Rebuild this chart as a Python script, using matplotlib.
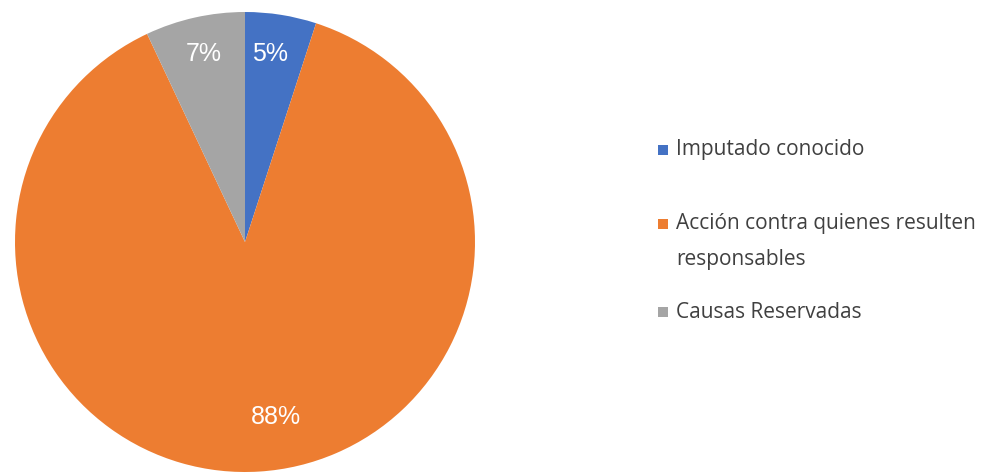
import matplotlib
matplotlib.use("Agg")
import matplotlib.pyplot as plt
from matplotlib.patches import Rectangle

categories = ["Imputado conocido", "Acción contra quienes resulten\nresponsables", "Causas Reservadas"]
values = [5, 88, 7]
colors = ["#4472C4", "#ED7D31", "#A5A5A5"]

W, H = 987, 474
fig = plt.figure(figsize=(W / 100, H / 100), dpi=100)
fig.patch.set_facecolor("white")

cx, cy, r = 245, 242, 230
ax = fig.add_axes([(cx - r) / W, (H - cy - r) / H, 2 * r / W, 2 * r / H])
wedges, texts, autotexts = ax.pie(
    values, colors=colors, startangle=90, counterclock=False,
    autopct=lambda p: f"{p:.0f}%", pctdistance=0.81,
    wedgeprops=dict(linewidth=0),
    textprops=dict(color="white", fontsize=18, family="Liberation Sans"),
)
# label placement as in the reference (pixel -> data units)
label_px = [(270, 54), (276, 417), (204, 54)]
for t, (px, py) in zip(autotexts, label_px):
    t.set_position(((px - cx) / r, (cy - py) / r))
ax.set_xlim(-1, 1)
ax.set_ylim(-1, 1)
ax.set_aspect("auto")
ax.axis("off")

# legend drawn manually
leg_y = [150, 224, 312]
sq = 10
fs = 15
for lab, col, y in zip(categories, colors, leg_y):
    fig.patches.append(Rectangle((658 / W, (H - y - sq / 2) / H), sq / W, sq / H,
                                 transform=fig.transFigure, facecolor=col, edgecolor="none"))
    for i, ln in enumerate(lab.split("\n")):
        fig.text(676 / W, (H - y - i * 35) / H, ln, ha="left", va="center",
                 fontsize=fs, family="Open Sans", color="#404040")

fig.savefig("out.png", dpi=100)
